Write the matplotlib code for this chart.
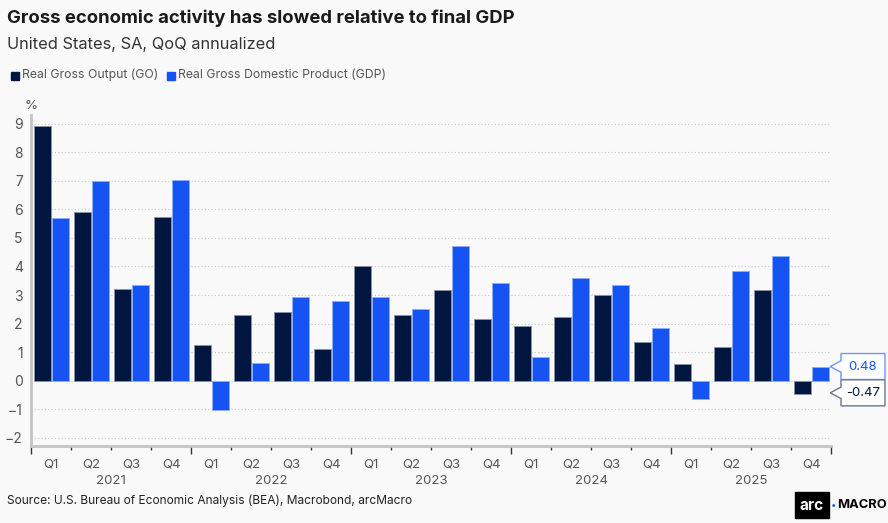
import matplotlib
matplotlib.use("Agg")
import matplotlib.pyplot as plt
from matplotlib.patches import Polygon
from matplotlib.transforms import blended_transform_factory
import numpy as np

plt.rcParams['font.family'] = ['Inter', 'DejaVu Sans']

# data
years = ['2021', '2022', '2023', '2024', '2025']
quarters = ['Q1', 'Q2', 'Q3', 'Q4']
go = [8.93, 5.92, 3.23, 5.72,
      1.25, 2.30, 2.42, 1.12,
      4.01, 2.31, 3.18, 2.18,
      1.91, 2.23, 2.99, 1.35,
      0.58, 1.18, 3.19, -0.47]
gdp = [5.70, 6.98, 3.34, 7.03,
       -1.02, 0.62, 2.92, 2.79,
       2.93, 2.53, 4.70, 3.42,
       0.84, 3.60, 3.35, 1.86,
       -0.64, 3.84, 4.38, 0.48]

c_go = '#00163f'
c_gdp = '#1553f5'
bg = '#f9f9f9'
txt = '#555555'

fig = plt.figure(figsize=(8.88, 5.23), dpi=100, facecolor=bg)
ax = fig.add_axes([31/888, 1-446/523, 800/888, (446-115)/523], facecolor=bg)

n = len(go)
x = np.arange(n)
w = 0.425
ax.bar(x + 0.29, go, w, color=c_go, edgecolor='#8a93a8', linewidth=0.6, zorder=3)
ax.bar(x + 0.735, gdp, w, color=c_gdp, edgecolor='#8fb0ff', linewidth=0.6, zorder=3)

ax.set_xlim(0, n)
ax.set_ylim(-2.28, 9.3)
ax.set_yticks(range(-2, 10))
ax.tick_params(axis='y', length=0, labelsize=10, colors=txt, pad=6)
ax.yaxis.grid(True, color='#c8c8c8', linestyle=(0, (1, 2)), linewidth=0.8, zorder=0)

for s in ['top', 'right']:
    ax.spines[s].set_visible(False)
ax.spines['left'].set_color('#c4c4c4')
ax.spines['left'].set_linewidth(2)
ax.spines['bottom'].set_color('#c4c4c4')
ax.spines['bottom'].set_linewidth(2)

# x ticks: quarter boundaries, year boundaries longer
ax.set_xticks(np.arange(0, n + 1, 4))
ax.set_xticks([i for i in range(n + 1) if i % 4], minor=True)
ax.tick_params(axis='x', which='major', length=6, width=1, color='#333333', labelbottom=False)
ax.tick_params(axis='x', which='minor', length=3, width=1, color='#333333')
tb = blended_transform_factory(ax.transData, ax.transAxes)
for i in range(n):
    ax.text(i + 0.5, -0.055, quarters[i % 4], transform=tb, ha='center', va='center',
            fontsize=9.5, color=txt)
for j, yr in enumerate(years):
    ax.text(j * 4 + 2, -0.105, yr, transform=tb, ha='center', va='center',
            fontsize=9.5, color=txt)

ax.text(0, 1.008, '%', transform=ax.transAxes, ha='center', va='bottom', fontsize=9.5, color=txt)

# end-value callouts
tr = blended_transform_factory(ax.transAxes, ax.transData)
for val, col, tcol in [(gdp[-1], '#6f95ff', c_gdp), (go[-1], '#6b7590', c_go)]:
    yc = val + (0.02 if val > 0 else 0.05)
    h = 0.455
    x0, x1, tip = 1.0125, 1.0675, 0.999
    pts = [(tip, yc), (x0, yc + 0.2), (x0, yc + h), (x1, yc + h),
           (x1, yc - h), (x0, yc - h), (x0, yc - 0.2)]
    ax.add_patch(Polygon(pts, closed=True, transform=tr, facecolor='white',
                         edgecolor=col, linewidth=1, clip_on=False, zorder=5))
    ax.text((x0 + x1) / 2, yc, f'{val:.2f}', transform=tr, ha='center', va='center',
            fontsize=9.5, color=tcol, zorder=6)

# titles
fig.text(7/888, 1-18/523, 'Gross economic activity has slowed relative to final GDP',
         fontsize=13.3, fontweight='bold', color='#1a1a1a', va='center')
fig.text(7/888, 1-44/523, 'United States, SA, QoQ annualized',
         fontsize=11.8, color='#333333', va='center')

# legend
ly = 1 - 75/523
fig.patches.append(plt.Rectangle((11/888, ly - 0.009), 8/888, 8/523, color=c_go,
                                 transform=fig.transFigure, figure=fig))
fig.text(22/888, ly, 'Real Gross Output (GO)', fontsize=8.8, color=txt, va='center')
fig.patches.append(plt.Rectangle((167/888, ly - 0.009), 8/888, 8/523, color=c_gdp,
                                 transform=fig.transFigure, figure=fig))
fig.text(178/888, ly, 'Real Gross Domestic Product (GDP)', fontsize=8.8, color=txt, va='center')

fig.text(7/888, 1-501/523, 'Source: U.S. Bureau of Economic Analysis (BEA), Macrobond, arcMacro',
         fontsize=8.6, color='#222222', va='center')

# logo
fig.text(812/888, 1-505/523, 'arc', fontsize=11, fontweight='bold', color='white',
         ha='center', va='center',
         bbox=dict(boxstyle='square,pad=0.35', facecolor='black', edgecolor='black'))
fig.text(833/888, 1-505/523, '•', fontsize=7, color=c_gdp, ha='center', va='center')
fig.text(837/888, 1-505/523, 'MACRO', fontsize=9.3, fontweight='bold', color='black',
         ha='left', va='center')

fig.savefig('out.png', dpi=100, facecolor=bg)
